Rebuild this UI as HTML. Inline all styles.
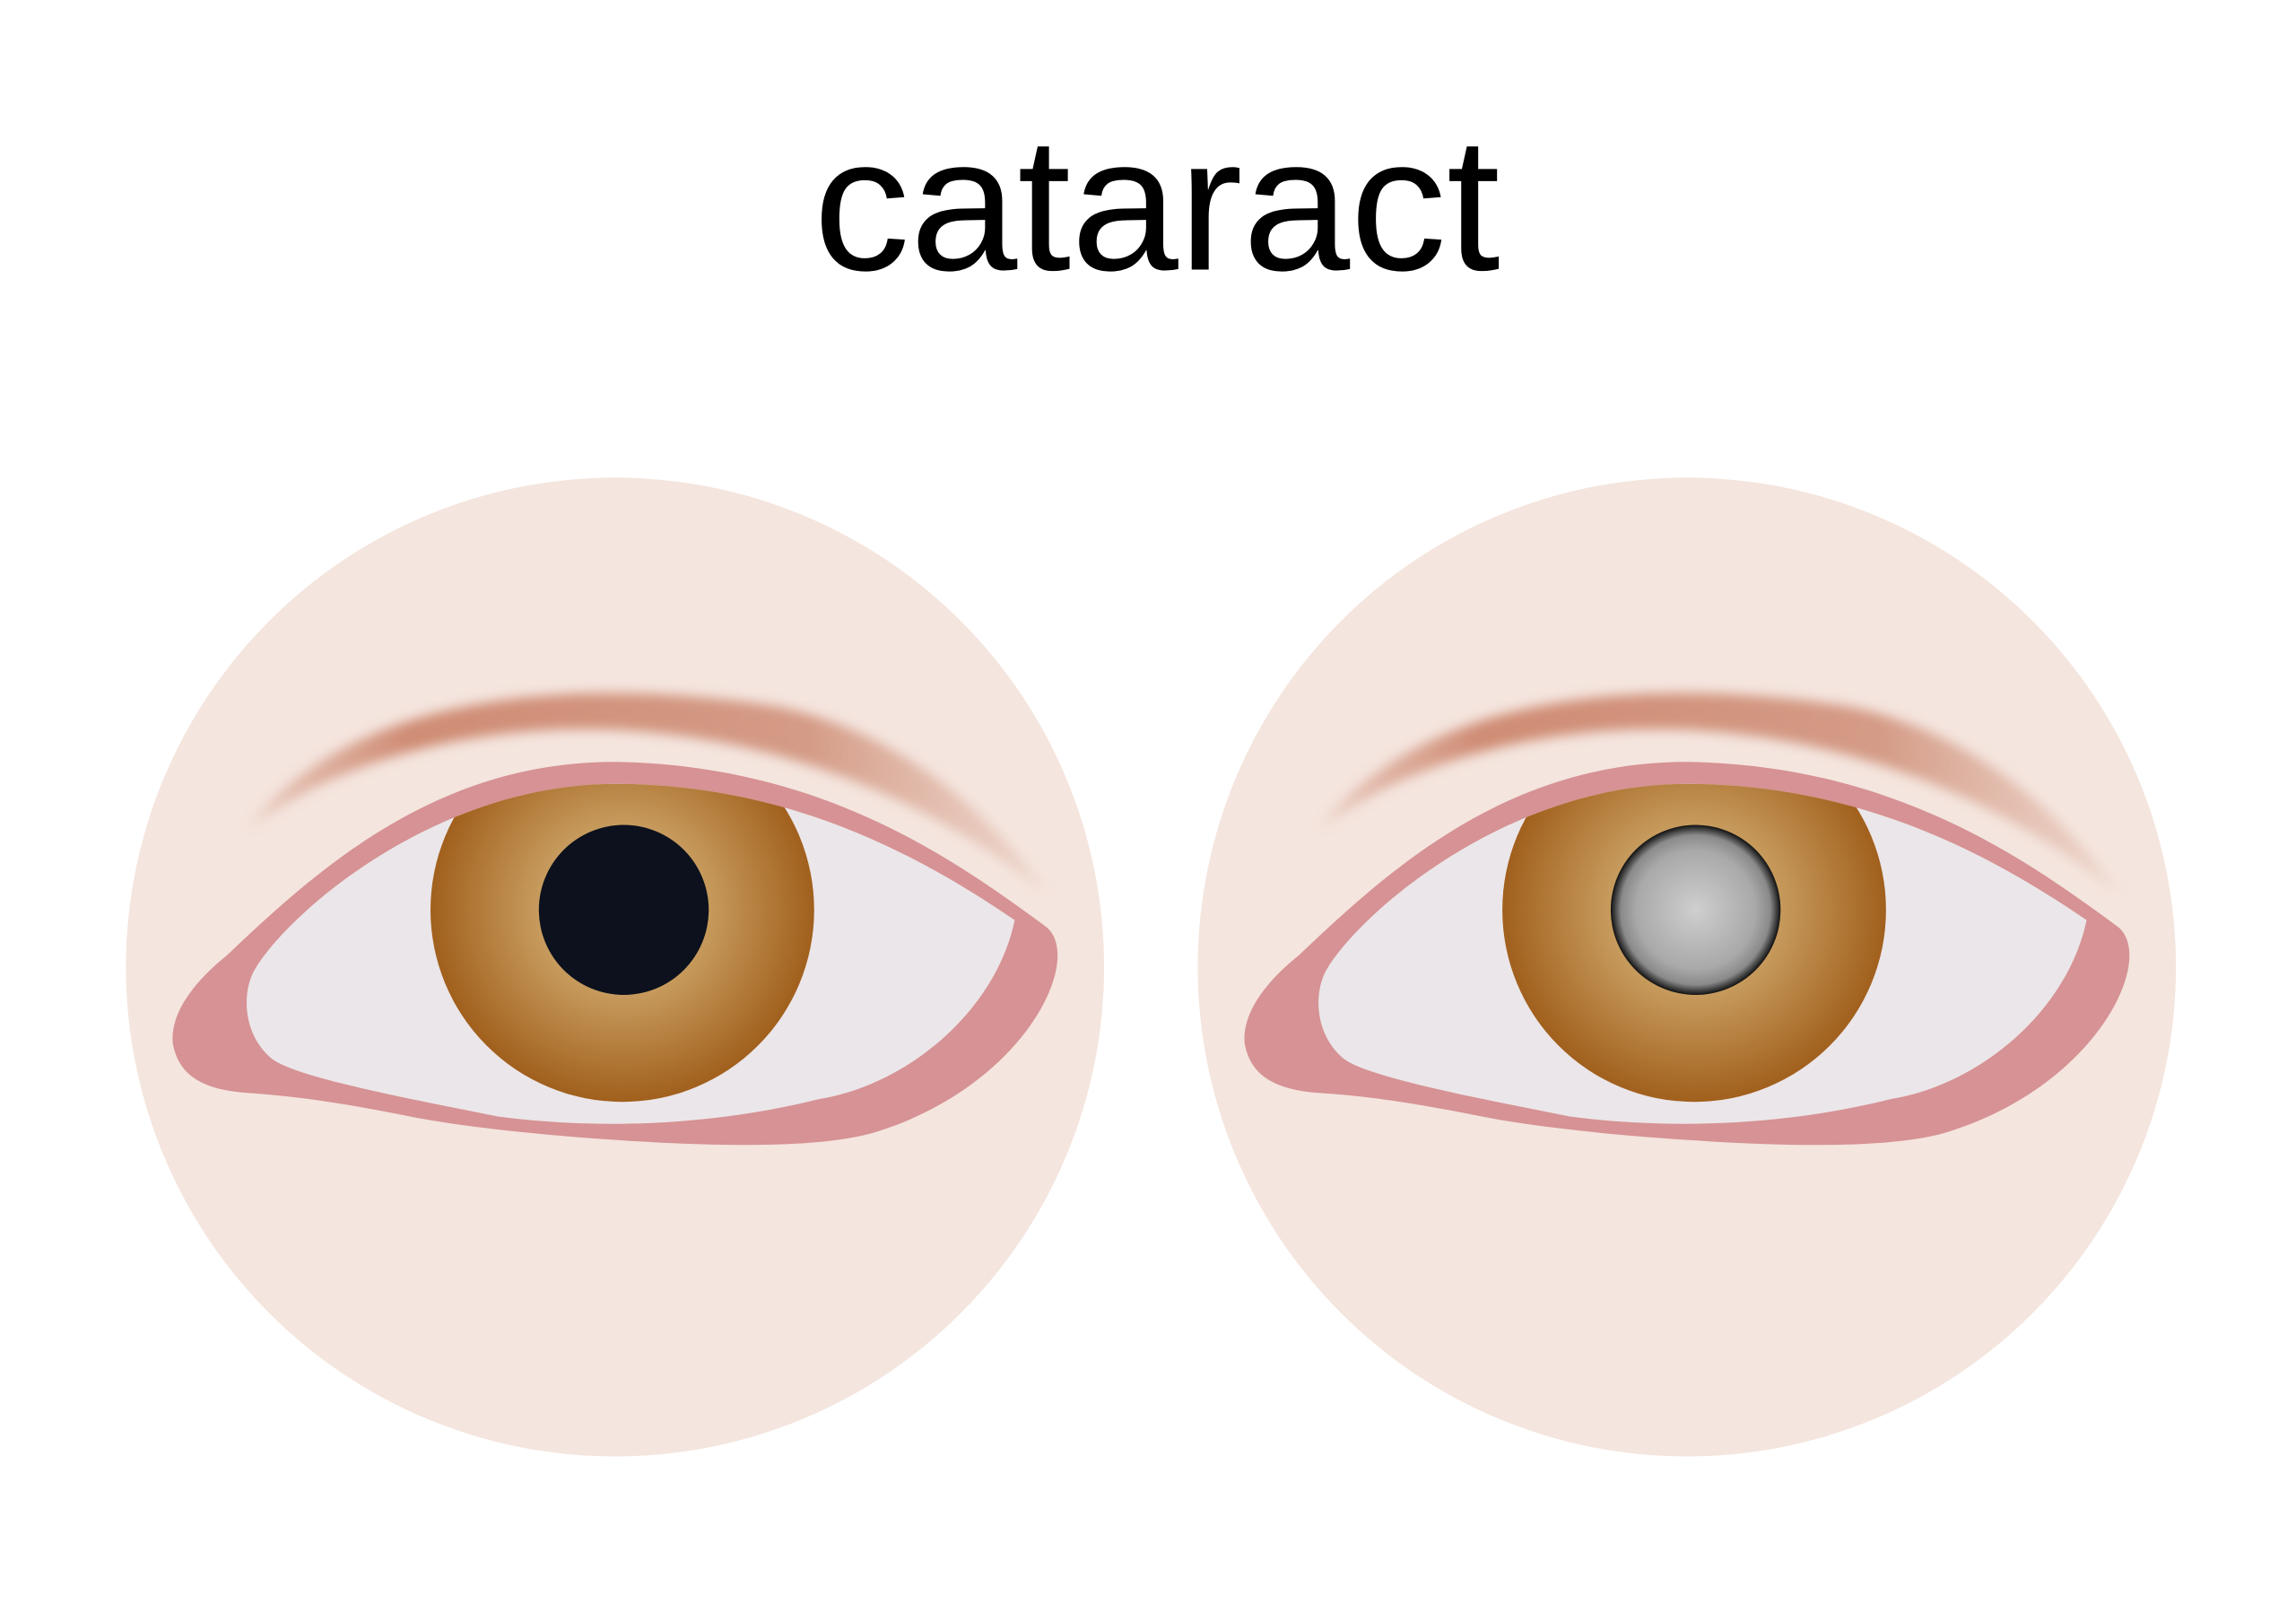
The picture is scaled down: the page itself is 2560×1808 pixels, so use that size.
<!DOCTYPE html>
<html><head><meta charset="utf-8"><style>html,body{margin:0;padding:0;background:#fff}svg{display:block}</style></head>
<body>
<svg width="2560" height="1808" viewBox="0 0 1568 1107" preserveAspectRatio="none" xmlns="http://www.w3.org/2000/svg">
<defs>
<radialGradient id="iris" cx="50%" cy="50%" r="50%">
<stop offset="0" stop-color="#dcc08e"/><stop offset="0.45" stop-color="#c69a5c"/><stop offset="1" stop-color="#a1601d"/>
</radialGradient>
<radialGradient id="cloud" cx="50%" cy="50%" r="50%">
<stop offset="0" stop-color="#cfcfcf"/><stop offset="0.7" stop-color="#a9a9a9"/><stop offset="0.88" stop-color="#8a8a8a"/><stop offset="1" stop-color="#111"/>
</radialGradient>
<filter id="blur" x="-20%" y="-50%" width="140%" height="200%"><feGaussianBlur stdDeviation="4"/></filter>
<linearGradient id="brow" x1="0" x2="1" y1="0" y2="0">
<stop offset="0" stop-color="#d08f78" stop-opacity="0.3"/><stop offset="0.2" stop-color="#cf8c74"/><stop offset="0.7" stop-color="#d49b86"/><stop offset="1" stop-color="#dcae9c" stop-opacity="0.3"/>
</linearGradient>
<clipPath id="white"><path d="M175,660 C200,620 300,535 420,535 C540,535 630,585 693,628 C680,690 620,740 560,750 C480,770 400,770 340,762 C280,750 200,735 185,722 C165,705 165,675 175,660 Z"/></clipPath>
<g id="eye">
<circle cx="420" cy="660" r="334" fill="#f4e5de"/>
<path d="M170,565 C240,470 400,462 530,482 C620,500 680,560 715,610 C660,565 560,505 420,498 C320,494 230,520 170,565 Z" fill="url(#brow)" filter="url(#blur)"/>
<path d="M155,652 C220,590 300,520 420,520 C560,522 650,585 715,633 C740,655 700,740 600,772 C560,785 480,782 420,778 C360,774 310,768 280,762 C230,752 200,748 170,746 C140,744 122,735 118,712 C116,690 135,668 155,652 Z" fill="#d69294"/>
<path d="M175,660 C200,620 300,535 420,535 C540,535 630,585 693,628 C680,690 620,740 560,750 C480,770 400,770 340,762 C280,750 200,735 185,722 C165,705 165,675 175,660 Z" fill="#ebe6e9"/>
</g>
</defs>
<rect width="1568" height="1107" fill="#fff"/>
<text x="790" y="184" text-anchor="middle" font-family="Liberation Sans, sans-serif" font-size="130" textLength="469" lengthAdjust="spacingAndGlyphs" fill="#000">cataract</text>
<g>
<use href="#eye"/>
<g clip-path="url(#white)"><circle cx="425" cy="621" r="131" fill="url(#iris)"/></g>
<circle cx="426" cy="621" r="58" fill="#0c111d"/>
</g>
<g transform="translate(732,0)">
<use href="#eye"/>
<g clip-path="url(#white)"><circle cx="425" cy="621" r="131" fill="url(#iris)"/></g>
<circle cx="426" cy="621" r="58" fill="url(#cloud)"/>
</g>
</svg>
</body></html>
